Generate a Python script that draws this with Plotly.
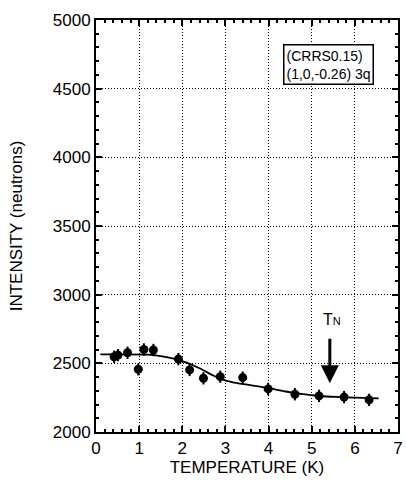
import plotly.graph_objects as go

# measured data points
temp_K = [0.42, 0.51, 0.73, 0.98, 1.11, 1.33, 1.91, 2.17, 2.49, 2.88, 3.40, 3.99, 4.61, 5.17, 5.75, 6.33]
intensity = [2548, 2560, 2577, 2457, 2601, 2597, 2531, 2452, 2391, 2403, 2396, 2314, 2275, 2263, 2254, 2234]
intensity_err = [45, 45, 45, 45, 45, 45, 45, 45, 45, 45, 45, 45, 45, 45, 45, 45]

# fitted curve
fit_T = [0.1, 1.2, 1.5, 1.8, 2.1, 2.4, 2.7, 2.9, 3.2, 3.6, 4.0, 4.4, 4.8, 5.2, 5.6, 6.0, 6.55]
fit_I = [2565, 2563, 2553, 2535, 2505, 2464, 2414, 2385, 2360, 2340, 2319, 2295, 2275, 2262, 2255, 2250, 2245]

x_ticks = [0, 1, 2, 3, 4, 5, 6, 7]
y_ticks = [2000, 2500, 3000, 3500, 4000, 4500, 5000]

FONT = "Liberation Sans, Arial, sans-serif"

fig = go.Figure()
fig.add_trace(go.Scatter(
    x=fit_T, y=fit_I, mode="lines",
    line=dict(color="black", width=1.8, shape="spline", smoothing=0.8),
    showlegend=False, hoverinfo="skip"))
fig.add_trace(go.Scatter(
    x=temp_K, y=intensity, mode="markers",
    marker=dict(color="black", size=9),
    error_y=dict(type="data", array=intensity_err, color="black", thickness=2, width=0),
    showlegend=False))

axis_common = dict(
    showline=True, linecolor="black", linewidth=2, mirror="ticks",
    ticks="inside", ticklen=6, tickwidth=1.5, tickcolor="black",
    showgrid=True, gridcolor="black", griddash="1px,2px", gridwidth=1,
    zeroline=False,
    tickfont=dict(family=FONT, size=17, color="black"),
)

fig.update_xaxes(
    range=[0, 7], tickvals=x_ticks,
    minor=dict(dtick=0.2, ticks="inside", ticklen=3, tickcolor="black", showgrid=False),
    title=dict(text="TEMPERATURE (K)", font=dict(family=FONT, size=17, color="black"), standoff=0),
    **axis_common)
fig.update_yaxes(
    range=[2000, 5000], tickvals=y_ticks,
    minor=dict(dtick=100, ticks="inside", ticklen=3, tickcolor="black", showgrid=False),
    title=dict(text="INTENSITY (neutrons)", font=dict(family=FONT, size=17, color="black"), standoff=26),
    **axis_common)

fig.add_annotation(
    x=5.4, y=4675, xref="x", yref="y",
    text="(CRRS0.15)<br>(1,0,-0.26) 3q", showarrow=False,
    font=dict(family=FONT, size=14, color="black"),
    align="left", bordercolor="black", borderwidth=1.5, borderpad=2,
    bgcolor="white")

fig.add_annotation(
    x=5.47, y=2820, xref="x", yref="y",
    text="T<span style='font-size:11px'>N</span>", showarrow=False,
    font=dict(family=FONT, size=16, color="black"))

fig.add_annotation(
    x=5.42, y=2355, xref="x", yref="y",
    ax=5.42, ay=2690, axref="x", ayref="y",
    text="", showarrow=True, arrowhead=2, arrowsize=1.2, arrowwidth=3, arrowcolor="black")

fig.update_layout(
    width=407, height=480,
    margin=dict(l=96, r=4, t=20, b=48),
    paper_bgcolor="white", plot_bgcolor="white",
    font=dict(family=FONT, color="black"),
)

fig.write_html("out.html")
